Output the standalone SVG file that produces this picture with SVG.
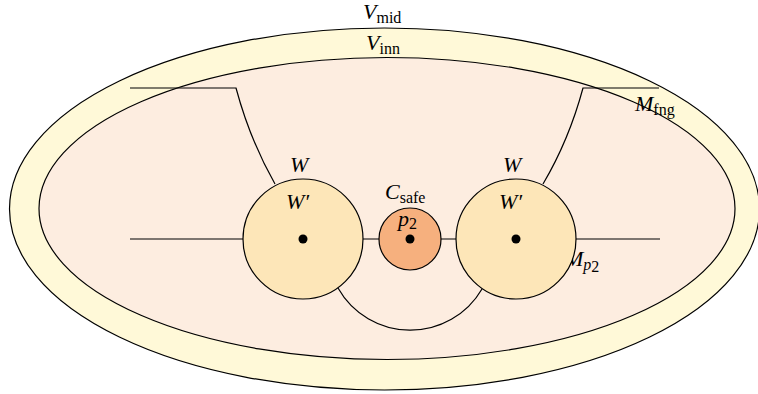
<svg xmlns="http://www.w3.org/2000/svg" width="758" height="394" viewBox="0 0 758 394">
<style>
.ln{fill:none;stroke:#000;stroke-width:1.2}
.t{font-family:"Liberation Serif","DejaVu Serif",serif;font-style:italic;font-size:22px;fill:#000}
.s{font-family:"Liberation Serif","DejaVu Serif",serif;font-style:normal;font-size:16px}
.si{font-family:"Liberation Serif","DejaVu Serif",serif;font-style:italic;font-size:16px}
.w{fill:#fde6b8;stroke:#000;stroke-width:1.2}
</style>
<rect width="758" height="394" fill="#fff"/>
<g id="Vmid">
<ellipse cx="384.5" cy="209" rx="375" ry="181" fill="#fff9d8" stroke="#000" stroke-width="1.2"/>
<text class="t" x="363" y="19">V<tspan class="s" dy="4">mid</tspan></text>
</g>
<g id="Vinn">
<ellipse cx="387" cy="208.5" rx="348" ry="151" fill="#fdede0" stroke="#000" stroke-width="1.2"/>
<text class="t" x="366" y="50">V<tspan class="s" dy="4">inn</tspan></text>
</g>
<g id="Mp2label">
<text class="t" x="565" y="266">M<tspan class="si" dy="4">p</tspan><tspan class="s" dy="2">2</tspan></text>
</g>
<g id="connectors">
<path class="ln" d="M130 239 H660"/>
<path class="ln" d="M130 88 H236 Q250 140 275 184"/>
<path class="ln" d="M659 88 H583 Q569 140 543 184"/>
<path class="ln" d="M338 288 A83 83 0 0 0 482 289"/>
</g>
<g id="Mfng">
<text class="t" x="635" y="111">M<tspan class="s" dy="4">fng</tspan></text>
</g>
<g id="Wleft">
<circle class="w" cx="303" cy="239" r="60"/>
<circle cx="303" cy="239" r="4.5" fill="#000"/>
<text class="t" x="290" y="172">W</text>
<text class="t" x="286" y="209">W′</text>
</g>
<g id="Cmid">
<circle cx="410" cy="239" r="31" fill="#f6b07e" stroke="#000" stroke-width="1.2"/>
<circle cx="410" cy="239" r="4.5" fill="#000"/>
<text class="t" x="385" y="199">C<tspan class="s" dy="4">safe</tspan></text>
<text class="t" x="398" y="226">p<tspan class="s" dy="3">2</tspan></text>
</g>
<g id="Wright">
<circle class="w" cx="516" cy="239" r="60"/>
<circle cx="516" cy="239" r="4.5" fill="#000"/>
<text class="t" x="503" y="172">W</text>
<text class="t" x="499" y="209">W′</text>
</g>
</svg>
